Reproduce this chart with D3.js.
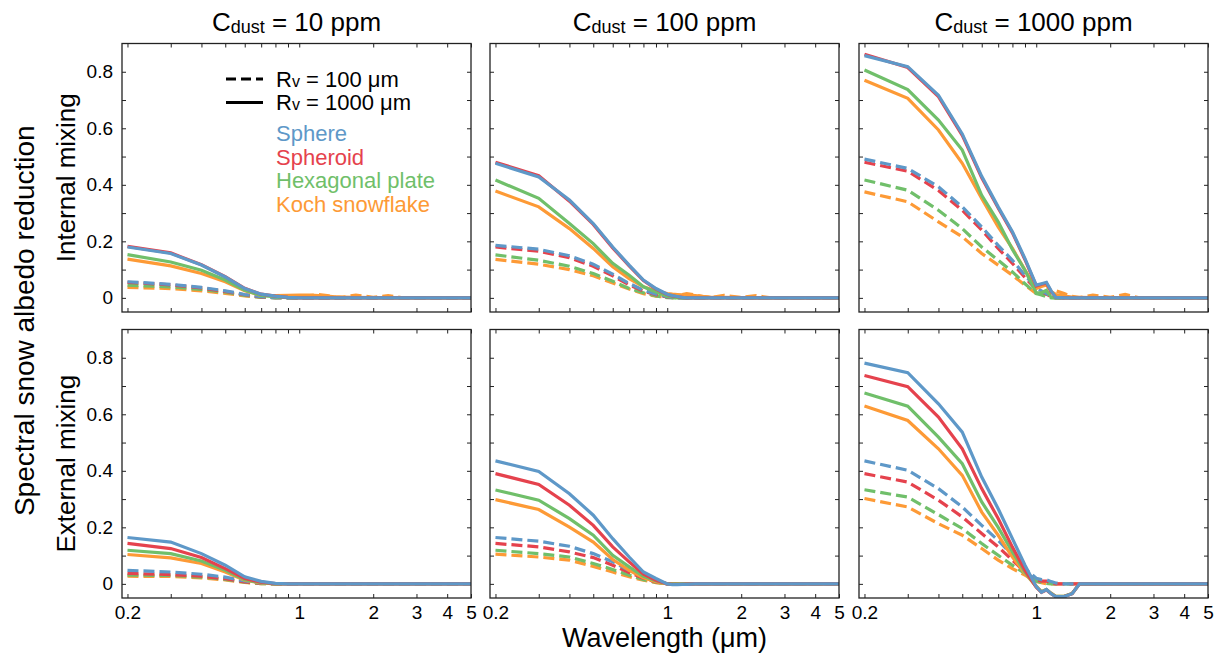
<!DOCTYPE html>
<html>
<head>
<meta charset="utf-8">
<script src="https://cdn.jsdelivr.net/npm/d3@7"></script>
<style>
  body { margin: 0; background: #fff; }
  svg { font-family: "Liberation Sans", Arial, sans-serif; }
  .tick text { font-size: 19px; fill: #000; }
  .tick line { stroke: #222; stroke-width: 1; }
</style>
</head>
<body>
<svg id="chart" width="1225" height="658"></svg>
<script>
// wavelength grid (um) shared by all curves
var wavelengths = [0.2, 0.3, 0.4, 0.5, 0.6, 0.7, 0.8, 0.9, 1.0, 1.05, 1.1, 1.15, 1.2, 1.3, 1.4, 1.5, 1.7, 2.0, 2.3, 2.6, 3.0, 5.0];

var shapes = ["Sphere", "Spheroid", "Hexagonal plate", "Koch snowflake"];
var concentrations = [10, 100, 1000];
var mixings = ["Internal mixing", "External mixing"];
var yTickValues = [0, 0.1, 0.2, 0.3, 0.4, 0.5, 0.6, 0.7, 0.8];
var yTickLabels = [0, 0.2, 0.4, 0.6, 0.8];
var xTickValues = [0.2, 0.3, 0.4, 0.5, 0.6, 0.7, 0.8, 0.9, 1, 2, 3, 4, 5];
var xTickLabels = [0.2, 1, 2, 3, 4, 5];

// each array: [sphere, spheroid, hexagonal plate, koch snowflake]
var int10_r1000 = [
  [0.180, 0.157, 0.116, 0.074, 0.033, 0.013, 0.006, 0.002, 0, 0, 0, 0, 0, 0, 0, 0, 0, 0, 0, 0, 0, 0],
  [0.182, 0.159, 0.117, 0.075, 0.034, 0.013, 0.006, 0.002, 0, 0, 0, 0, 0, 0, 0, 0, 0, 0, 0, 0, 0, 0],
  [0.153, 0.127, 0.098, 0.063, 0.027, 0.009, 0.003, 0.001, 0, 0, 0, 0, 0, 0, 0, 0, 0, 0, 0, 0, 0, 0],
  [0.137, 0.113, 0.086, 0.057, 0.025, 0.009, 0.008, 0.009, 0.010, 0.010, 0.010, 0.009, 0.008, 0.006, 0.004, 0.003, 0.002, 0.001, 0, 0, 0, 0]
];
var int10_r100 = [
  [0.057, 0.048, 0.037, 0.025, 0.012, 0.004, 0.001, 0, 0, 0, 0, 0, 0, 0, 0, 0, 0, 0, 0, 0, 0, 0],
  [0.055, 0.046, 0.035, 0.023, 0.011, 0.003, 0.001, 0, 0, 0, 0, 0, 0, 0, 0, 0, 0, 0, 0, 0, 0, 0],
  [0.045, 0.039, 0.030, 0.020, 0.009, 0.002, 0, 0, 0, 0, 0, 0, 0, 0, 0, 0, 0, 0, 0, 0, 0, 0],
  [0.037, 0.033, 0.025, 0.016, 0.007, 0.002, 0.001, 0.002, 0.004, 0.006, 0.008, 0.010, 0.012, 0.008, 0.004, 0.002, 0.010, 0.002, 0.008, 0.001, 0, 0]
];
var int100_r1000 = [
  [0.476, 0.428, 0.346, 0.263, 0.180, 0.116, 0.063, 0.033, 0.013, 0.008, 0.005, 0.002, 0, 0, 0, 0, 0, 0, 0, 0, 0, 0],
  [0.480, 0.432, 0.342, 0.260, 0.177, 0.113, 0.061, 0.031, 0.012, 0.007, 0.004, 0.002, 0, 0, 0, 0, 0, 0, 0, 0, 0, 0],
  [0.417, 0.352, 0.263, 0.192, 0.122, 0.080, 0.039, 0.021, 0.006, 0.003, 0, 0, 0, 0, 0, 0, 0, 0, 0, 0, 0, 0],
  [0.378, 0.322, 0.245, 0.175, 0.110, 0.068, 0.039, 0.024, 0.015, 0.013, 0.012, 0.011, 0.010, 0.008, 0.005, 0.003, 0.002, 0.001, 0, 0, 0, 0]
];
var int100_r100 = [
  [0.186, 0.172, 0.149, 0.119, 0.084, 0.051, 0.027, 0.013, 0.004, 0.002, 0, 0, 0, 0, 0, 0, 0, 0, 0, 0, 0, 0],
  [0.180, 0.165, 0.142, 0.112, 0.078, 0.046, 0.024, 0.011, 0.003, 0.001, 0, 0, 0, 0, 0, 0, 0, 0, 0, 0, 0, 0],
  [0.152, 0.133, 0.112, 0.086, 0.059, 0.033, 0.018, 0.007, 0.001, 0, 0, 0, 0, 0, 0, 0, 0, 0, 0, 0, 0, 0],
  [0.136, 0.119, 0.100, 0.078, 0.053, 0.031, 0.015, 0.006, 0.002, 0.004, 0.007, 0.012, 0.015, 0.010, 0.004, 0.001, 0.009, 0.002, 0.008, 0.001, 0, 0]
];
var int1000_r1000 = [
  [0.857, 0.818, 0.717, 0.580, 0.430, 0.322, 0.234, 0.139, 0.045, 0.050, 0.055, 0.025, 0.002, 0, 0, 0, 0, 0, 0, 0, 0, 0],
  [0.862, 0.815, 0.712, 0.575, 0.425, 0.318, 0.230, 0.135, 0.042, 0.048, 0.052, 0.022, 0.002, 0, 0, 0, 0, 0, 0, 0, 0, 0],
  [0.806, 0.737, 0.629, 0.523, 0.363, 0.269, 0.171, 0.098, 0.018, 0.018, 0.027, 0.002, 0, 0, 0, 0, 0, 0, 0, 0, 0, 0],
  [0.770, 0.706, 0.594, 0.476, 0.352, 0.251, 0.175, 0.098, 0.033, 0.040, 0.046, 0.022, 0.012, 0.006, 0.003, 0.002, 0.001, 0, 0, 0, 0, 0]
];
var int1000_r100 = [
  [0.491, 0.458, 0.393, 0.322, 0.251, 0.186, 0.133, 0.080, 0.035, 0.025, 0.015, 0.005, 0, 0, 0, 0, 0, 0, 0, 0, 0, 0],
  [0.480, 0.448, 0.380, 0.310, 0.240, 0.175, 0.122, 0.072, 0.030, 0.022, 0.013, 0.004, 0, 0, 0, 0, 0, 0, 0, 0, 0, 0],
  [0.417, 0.381, 0.310, 0.245, 0.180, 0.133, 0.092, 0.050, 0.015, 0.010, 0.005, 0, 0, 0, 0, 0, 0, 0, 0, 0, 0, 0],
  [0.375, 0.340, 0.269, 0.216, 0.157, 0.116, 0.080, 0.045, 0.015, 0.010, 0.012, 0.020, 0.025, 0.015, 0.005, 0.001, 0.010, 0.002, 0.012, 0.001, 0, 0]
];
var ext10_r1000 = [
  [0.164, 0.148, 0.107, 0.066, 0.025, 0.009, 0.002, 0, 0, 0, 0, 0, 0, 0, 0, 0, 0, 0, 0, 0, 0, 0],
  [0.143, 0.125, 0.093, 0.054, 0.019, 0.006, 0.001, 0, 0, 0, 0, 0, 0, 0, 0, 0, 0, 0, 0, 0, 0, 0],
  [0.119, 0.107, 0.081, 0.048, 0.015, 0.004, 0, 0, 0, 0, 0, 0, 0, 0, 0, 0, 0, 0, 0, 0, 0, 0],
  [0.104, 0.092, 0.072, 0.042, 0.013, 0.003, 0, 0, 0, 0, 0, 0, 0, 0, 0, 0, 0, 0, 0, 0, 0, 0]
];
var ext10_r100 = [
  [0.048, 0.042, 0.034, 0.024, 0.010, 0.003, 0, 0, 0, 0, 0, 0, 0, 0, 0, 0, 0, 0, 0, 0, 0, 0],
  [0.037, 0.033, 0.027, 0.018, 0.007, 0.002, 0, 0, 0, 0, 0, 0, 0, 0, 0, 0, 0, 0, 0, 0, 0, 0],
  [0.031, 0.030, 0.024, 0.016, 0.006, 0.001, 0, 0, 0, 0, 0, 0, 0, 0, 0, 0, 0, 0, 0, 0, 0, 0],
  [0.027, 0.026, 0.021, 0.014, 0.005, 0.001, 0, 0, 0, 0, 0, 0, 0, 0, 0, 0, 0, 0, 0, 0, 0, 0]
];
var ext100_r1000 = [
  [0.435, 0.398, 0.319, 0.243, 0.160, 0.095, 0.042, 0.019, 0, -0.003, -0.003, -0.002, -0.002, 0, 0, 0, 0, 0, 0, 0, 0, 0],
  [0.390, 0.352, 0.278, 0.207, 0.131, 0.078, 0.034, 0.013, 0, -0.002, -0.002, -0.002, -0.001, 0, 0, 0, 0, 0, 0, 0, 0, 0],
  [0.332, 0.296, 0.231, 0.172, 0.101, 0.060, 0.027, 0.011, 0, 0, 0, 0, 0, 0, 0, 0, 0, 0, 0, 0, 0, 0],
  [0.298, 0.263, 0.201, 0.148, 0.086, 0.048, 0.022, 0.008, 0, 0, 0, 0, 0, 0, 0, 0, 0, 0, 0, 0, 0, 0]
];
var ext100_r100 = [
  [0.164, 0.151, 0.133, 0.107, 0.078, 0.048, 0.025, 0.009, 0, 0, 0, 0, 0, 0, 0, 0, 0, 0, 0, 0, 0, 0],
  [0.143, 0.131, 0.113, 0.093, 0.066, 0.040, 0.020, 0.007, 0, 0, 0, 0, 0, 0, 0, 0, 0, 0, 0, 0, 0, 0],
  [0.119, 0.107, 0.095, 0.072, 0.051, 0.031, 0.015, 0.005, 0, 0, 0, 0, 0, 0, 0, 0, 0, 0, 0, 0, 0, 0],
  [0.105, 0.095, 0.084, 0.062, 0.042, 0.025, 0.013, 0.004, 0, 0, 0, 0, 0, 0, 0, 0, 0, 0, 0, 0, 0, 0]
];
var ext1000_r1000 = [
  [0.781, 0.747, 0.637, 0.537, 0.378, 0.266, 0.160, 0.066, -0.010, -0.030, -0.020, -0.035, -0.045, -0.045, -0.035, 0, 0, 0, 0, 0, 0, 0],
  [0.737, 0.698, 0.590, 0.478, 0.337, 0.231, 0.130, 0.048, -0.012, -0.030, -0.022, -0.035, -0.045, -0.045, -0.035, 0, 0, 0, 0, 0, 0, 0],
  [0.675, 0.629, 0.519, 0.425, 0.290, 0.200, 0.113, 0.042, -0.010, -0.028, -0.020, -0.034, -0.044, -0.044, -0.034, 0, 0, 0, 0, 0, 0, 0],
  [0.629, 0.578, 0.478, 0.384, 0.254, 0.172, 0.095, 0.037, -0.008, -0.027, -0.020, -0.033, -0.044, -0.044, -0.034, 0, 0, 0, 0, 0, 0, 0]
];
var ext1000_r100 = [
  [0.435, 0.402, 0.337, 0.272, 0.207, 0.154, 0.101, 0.054, 0.020, 0.015, 0.015, 0.008, 0.003, 0, 0, 0, 0, 0, 0, 0, 0, 0],
  [0.390, 0.360, 0.296, 0.237, 0.178, 0.131, 0.084, 0.042, 0.013, 0.010, 0.010, 0.003, 0, 0, 0, 0, 0, 0, 0, 0, 0, 0],
  [0.333, 0.307, 0.245, 0.196, 0.143, 0.101, 0.066, 0.037, 0.010, 0.005, 0.002, 0, 0, 0, 0, 0, 0, 0, 0, 0, 0, 0],
  [0.302, 0.272, 0.213, 0.172, 0.125, 0.084, 0.054, 0.031, 0.008, 0.004, 0, 0, 0, 0, 0, 0, 0, 0, 0, 0, 0, 0]
];

var colors = ["#5e98c8", "#e5424d", "#70bf6a", "#fd9a36"];

// row = mixing, col = concentration; r100 dashed, r1000 solid
var panels = [
  { row: 0, col: 0, r100: int10_r100, r1000: int10_r1000 },
  { row: 0, col: 1, r100: int100_r100, r1000: int100_r1000 },
  { row: 0, col: 2, r100: int1000_r100, r1000: int1000_r1000 },
  { row: 1, col: 0, r100: ext10_r100, r1000: ext10_r1000 },
  { row: 1, col: 1, r100: ext100_r100, r1000: ext100_r1000 },
  { row: 1, col: 2, r100: ext1000_r100, r1000: ext1000_r1000 }
];

var panelLeft = [122, 490, 859];
var panelTop = [43.5, 329.5];
var pw = 349, ph = 268.5;

var svg = d3.select("#chart");

var x = d3.scaleLog().domain([0.19, 5]).range([0, pw]);
var y = d3.scaleLinear().domain([-0.05, 0.9]).range([ph, 0]);

var line = d3.line()
  .x(function (d) { return x(d[0]); })
  .y(function (d) { return y(d[1]); });

svg.append("defs").append("clipPath").attr("id", "clip")
  .append("rect").attr("width", pw).attr("height", ph);

function yFmt(d) {
  if (yTickLabels.indexOf(d) < 0) return "";
  return d === 0 ? "0" : d3.format(".1f")(d);
}

panels.forEach(function (p) {
  var g = svg.append("g")
    .attr("transform", "translate(" + panelLeft[p.col] + "," + panelTop[p.row] + ")");

  // ticks, pointing inward on all four sides
  g.append("g").attr("transform", "translate(0," + ph + ")")
    .call(d3.axisBottom(x).tickValues(xTickValues).tickSize(-4).tickPadding(8)
      .tickFormat(function (d) { return (p.row === 1 && xTickLabels.indexOf(d) >= 0) ? d : ""; }));
  g.append("g")
    .call(d3.axisTop(x).tickValues(xTickValues).tickSize(-4).tickFormat(""));
  g.append("g")
    .call(d3.axisLeft(y).tickValues(yTickValues).tickSize(-4).tickPadding(9)
      .tickFormat(function (d) { return p.col === 0 ? yFmt(d) : ""; }));
  g.append("g").attr("transform", "translate(" + pw + ",0)")
    .call(d3.axisRight(y).tickValues(yTickValues).tickSize(-4).tickFormat(""));
  g.selectAll(".domain").remove();

  var plot = g.append("g").attr("clip-path", "url(#clip)");

  var series = [];
  [3, 2, 1, 0].forEach(function (s) {
    series.push({ s: s, dash: true, vals: p.r100[s] });
  });
  [3, 2, 1, 0].forEach(function (s) {
    series.push({ s: s, dash: false, vals: p.r1000[s] });
  });

  plot.selectAll("path.curve")
    .data(series)
    .enter()
    .append("path")
    .attr("class", "curve")
    .attr("fill", "none")
    .attr("stroke", function (d) { return colors[d.s]; })
    .attr("stroke-width", 3.2)
    .attr("stroke-dasharray", function (d) { return d.dash ? "11,5" : null; })
    .attr("d", function (d) { return line(wavelengths.map(function (w, i) { return [w, d.vals[i]]; })); });

  g.append("rect")
    .attr("width", pw).attr("height", ph)
    .attr("fill", "none").attr("stroke", "#222").attr("stroke-width", 1.3);

  if (p.row === 0) {
    var t = g.append("text")
      .attr("x", pw / 2).attr("y", -13)
      .attr("text-anchor", "middle")
      .style("font-size", "26px");
    t.append("tspan").text("C");
    t.append("tspan").text("dust").style("font-size", "18px").attr("dy", 2);
    t.append("tspan").text(" = " + concentrations[p.col] + " ppm").attr("dy", -2);
  }
});

// legend in the first panel
var lg = svg.append("g").attr("transform", "translate(" + panelLeft[0] + "," + panelTop[0] + ")");
var legendRows = [{ dash: true, r: 100 }, { dash: false, r: 1000 }];
legendRows.forEach(function (r, i) {
  var yy = 35.5 + i * 23.5;
  lg.append("line")
    .attr("x1", 104).attr("x2", 141).attr("y1", yy).attr("y2", yy)
    .attr("stroke", "#000").attr("stroke-width", 3)
    .attr("stroke-dasharray", r.dash ? "10,5" : null);
  var t = lg.append("text").attr("x", 154).attr("y", yy + 7.5).style("font-size", "22px");
  t.append("tspan").text("R");
  t.append("tspan").text("v").style("font-size", "16px");
  t.append("tspan").text(" = " + r.r + " \u03bcm");
});
shapes.forEach(function (s, i) {
  lg.append("text")
    .attr("x", 154).attr("y", 97.5 + i * 23.5)
    .attr("fill", colors[i])
    .style("font-size", "22px")
    .text(s);
});

// shared axis labels
svg.append("text")
  .attr("transform", "translate(34," + ((panelTop[0] + panelTop[1] + ph) / 2) + ") rotate(-90)")
  .attr("text-anchor", "middle")
  .style("font-size", "28px")
  .text("Spectral snow albedo reduction");
mixings.forEach(function (m, i) {
  svg.append("text")
    .attr("transform", "translate(75," + (panelTop[i] + ph / 2) + ") rotate(-90)")
    .attr("text-anchor", "middle")
    .style("font-size", "26px")
    .text(m);
});
svg.append("text")
  .attr("x", panelLeft[1] + pw / 2).attr("y", 647)
  .attr("text-anchor", "middle")
  .style("font-size", "27px")
  .text("Wavelength (\u03bcm)");
</script>
</body>
</html>
